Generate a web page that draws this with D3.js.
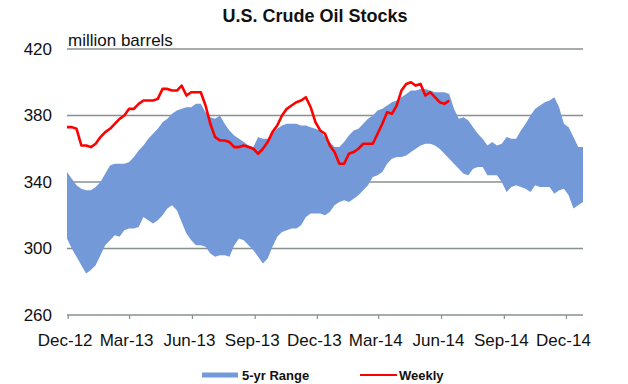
<!DOCTYPE html>
<meta charset="utf-8">
<head>
  <script src="https://cdn.jsdelivr.net/npm/d3@7"></script>
  <style>
    body { margin: 0; background: #fff; }
    text { font-family: "Liberation Sans", Arial, sans-serif; fill: #111; }
  </style>
</head>
<body>
<div id="chart"></div>
<script>
// weekly readings, first week ending 2012-11-30
var startDate = new Date(2012, 10, 30);

// 5-yr range, upper edge (million barrels)
var rangeHigh = [346, 342, 338, 336, 335, 335, 337, 340, 345, 350,
  351, 351, 351, 352, 355, 359, 362, 366, 369, 372,
  376, 378, 381, 383, 384, 385, 385, 387, 387, 382,
  379, 378, 380, 375, 371, 368, 366, 364, 362, 361,
  367, 366, 366, 369, 372, 374, 375, 375, 375, 374,
  374, 373, 372, 371, 367, 364, 361, 361, 364, 368,
  371, 372, 375, 378, 380, 383, 384, 386, 388, 389,
  391, 393, 395, 395, 396, 396, 395, 394, 394, 394,
  393, 384, 378, 379, 377, 373, 369, 366, 362, 364,
  362, 363, 367, 366, 366, 371, 375, 380, 384, 386,
  388, 389, 391, 385, 375, 373, 367, 361, 361];

// 5-yr range, lower edge
var rangeLow = [306, 300, 295, 290, 285, 287, 290, 296, 302, 305,
  308, 307, 311, 312, 312, 313, 319, 317, 315, 317,
  320, 324, 326, 323, 316, 309, 305, 302, 302, 301,
  297, 295, 296, 296, 295, 302, 306, 305, 302, 299,
  295, 291, 294, 301, 307, 310, 311, 312, 312, 314,
  319, 321, 321, 321, 320, 322, 326, 328, 329, 328,
  330, 332, 335, 338, 343, 344, 346, 351, 354, 355,
  355, 356, 358, 360, 362, 363, 363, 362, 360, 357,
  354, 351, 348, 345, 344, 348, 349, 349, 344, 344,
  344, 340, 334, 337, 338, 337, 336, 334, 338, 337,
  337, 337, 333, 335, 336, 332, 324, 326, 328];

// weekly stocks
var weekly = [373, 373, 372, 362, 362, 361, 363, 367, 370, 372,
  375, 378, 380, 384, 384, 387, 389, 389, 389, 390,
  396, 396, 395, 395, 398, 392, 394, 394, 394, 386,
  375, 367, 365, 365, 364, 361, 361, 362, 361, 360,
  357, 360, 364, 370, 374, 380, 384, 386, 388, 389,
  391, 385, 376, 371, 369, 362, 358, 351, 351, 357,
  358, 360, 363, 363, 363, 369, 375, 382, 381, 386,
  395, 399, 400, 398, 399, 392, 394, 391, 388, 387,
  389];

var yTicks = [260, 300, 340, 380, 420];
var xTickDates = [new Date(2012, 11, 1), new Date(2013, 2, 1), new Date(2013, 5, 1),
  new Date(2013, 8, 1), new Date(2013, 11, 1), new Date(2014, 2, 1),
  new Date(2014, 5, 1), new Date(2014, 8, 1), new Date(2014, 11, 1)];

function weekDate(i) { return d3.timeDay.offset(startDate, i * 7); }

var band = rangeHigh.map(function(h, i) { return { date: weekDate(i), hi: h, lo: rangeLow[i] }; });
var line = weekly.map(function(v, i) { return { date: weekDate(i), value: v }; });

var width = 628, height = 384;
var svg = d3.select("#chart").append("svg")
  .attr("width", width)
  .attr("height", height);

var x = d3.scaleTime()
  .domain([startDate, weekDate(rangeHigh.length - 1)])
  .range([67, 583]);

var y = d3.scaleLinear()
  .domain([260, 420])
  .range([315, 49]);

// title
svg.append("text")
  .attr("x", 315).attr("y", 22)
  .attr("text-anchor", "middle")
  .style("font-size", "18px")
  .style("font-weight", "bold")
  .text("U.S. Crude Oil Stocks");

// gridlines (behind the band)
svg.append("g")
  .selectAll("line")
  .data(yTicks)
  .enter().append("line")
  .attr("x1", 67).attr("x2", 583)
  .attr("y1", function(d) { return y(d); })
  .attr("y2", function(d) { return y(d); })
  .attr("stroke", "#87918d")
  .attr("stroke-width", 1.5);

// 5-yr range band
svg.append("path")
  .datum(band)
  .attr("fill", "#7499d8")
  .attr("d", d3.area()
    .x(function(d) { return x(d.date); })
    .y0(function(d) { return y(d.lo); })
    .y1(function(d) { return y(d.hi); }));

// y labels
var yAxis = svg.append("g")
  .attr("transform", "translate(58,0)")
  .call(d3.axisLeft(y).tickValues(yTicks).tickSize(0).tickPadding(6));
yAxis.select(".domain").remove();
yAxis.selectAll("text")
  .style("font-size", "17px")
  .style("font-family", "'Liberation Sans', Arial, sans-serif")
  .attr("fill", "#111");

// x axis
var xAxis = svg.append("g")
  .attr("transform", "translate(0," + y(260) + ")")
  .call(d3.axisBottom(x).tickValues(xTickDates).tickFormat(d3.timeFormat("%b-%y"))
    .tickSize(4).tickSizeOuter(0).tickPadding(15));
xAxis.select(".domain").remove();
xAxis.selectAll("line").attr("stroke", "#87918d").attr("stroke-width", 1.2);
xAxis.selectAll("text")
  .attr("dx", "-3")
  .style("font-size", "17px")
  .style("font-family", "'Liberation Sans', Arial, sans-serif")
  .attr("fill", "#111");

// unit label
svg.append("text")
  .attr("x", 68).attr("y", 46)
  .style("font-size", "17px")
  .text("million barrels");

// weekly line
svg.append("path")
  .datum(line)
  .attr("fill", "none")
  .attr("stroke", "#ff0000")
  .attr("stroke-width", 2.6)
  .attr("stroke-linejoin", "round")
  .attr("d", d3.line()
    .x(function(d) { return x(d.date); })
    .y(function(d) { return y(d.value); }));

// legend
var legend = svg.append("g");
legend.append("rect")
  .attr("x", 202).attr("y", 372.5)
  .attr("width", 36).attr("height", 5)
  .attr("fill", "#7499d8");
legend.append("text")
  .attr("x", 242).attr("y", 380)
  .style("font-size", "13px").style("font-weight", "bold")
  .text("5-yr Range");
legend.append("line")
  .attr("x1", 360).attr("x2", 397)
  .attr("y1", 375).attr("y2", 375)
  .attr("stroke", "#ff0000").attr("stroke-width", 2);
legend.append("text")
  .attr("x", 399).attr("y", 380)
  .style("font-size", "13px").style("font-weight", "bold")
  .text("Weekly");
</script>
</body>
